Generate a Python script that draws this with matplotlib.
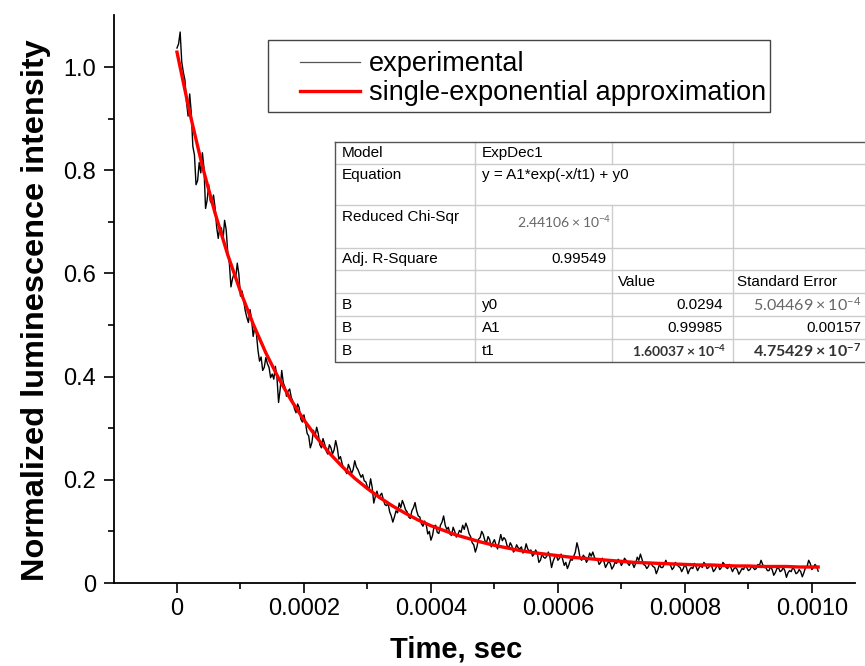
import numpy as np
import matplotlib.pyplot as plt
from matplotlib.patches import Rectangle

plt.rcParams['font.family'] = ['Liberation Sans', 'DejaVu Sans']

# experimental decay, one reading every 2.5 us
time_step = 2.5e-6
intensity = [
    1.037, 1.045, 1.068, 1.010, 0.990, 0.975, 0.932, 0.905, 0.948, 0.912,
    0.846, 0.830, 0.772, 0.780, 0.815, 0.795, 0.834, 0.805, 0.726, 0.742,
    0.772, 0.740, 0.735, 0.752, 0.728, 0.690, 0.668, 0.690, 0.688, 0.665,
    0.703, 0.685, 0.640, 0.620, 0.574, 0.590, 0.600, 0.592, 0.620, 0.598,
    0.556, 0.566, 0.548, 0.528, 0.515, 0.505, 0.530, 0.512, 0.478, 0.495,
    0.485, 0.452, 0.430, 0.438, 0.412, 0.418, 0.437, 0.425, 0.418, 0.398,
    0.405, 0.395, 0.420, 0.398, 0.350, 0.375, 0.412, 0.388, 0.380, 0.362,
    0.372, 0.376, 0.360, 0.352, 0.338, 0.330, 0.347, 0.340, 0.318, 0.312,
    0.326, 0.310, 0.290, 0.285, 0.262, 0.272, 0.296, 0.284, 0.302, 0.290,
    0.268, 0.262, 0.280, 0.270, 0.256, 0.250, 0.268, 0.262, 0.250, 0.258,
    0.276, 0.262, 0.240, 0.245, 0.232, 0.222, 0.218, 0.212, 0.230, 0.222,
    0.212, 0.220, 0.237, 0.225, 0.220, 0.212, 0.205, 0.210, 0.198, 0.196,
    0.186, 0.182, 0.202, 0.185, 0.155, 0.168, 0.178, 0.165, 0.170, 0.174,
    0.162, 0.152, 0.150, 0.154, 0.138, 0.130, 0.118, 0.128, 0.140, 0.136,
    0.155, 0.146, 0.160, 0.152, 0.142, 0.138, 0.128, 0.125, 0.140, 0.146,
    0.156, 0.140, 0.130, 0.128, 0.115, 0.110, 0.120, 0.114, 0.095, 0.100,
    0.083, 0.092, 0.110, 0.112, 0.098, 0.096, 0.112, 0.118, 0.130, 0.112,
    0.104, 0.108, 0.095, 0.092, 0.108, 0.100, 0.089, 0.094, 0.102, 0.098,
    0.112, 0.104, 0.116, 0.108, 0.096, 0.090, 0.078, 0.074, 0.060, 0.070,
    0.085, 0.088, 0.100, 0.094, 0.082, 0.078, 0.090, 0.084, 0.070, 0.078,
    0.084, 0.074, 0.066, 0.080, 0.094, 0.082, 0.088, 0.084, 0.072, 0.068,
    0.078, 0.072, 0.060, 0.064, 0.074, 0.068, 0.066, 0.070, 0.058, 0.062,
    0.076, 0.066, 0.062, 0.064, 0.052, 0.056, 0.064, 0.058, 0.040, 0.044,
    0.056, 0.050, 0.048, 0.052, 0.060, 0.050, 0.030, 0.042, 0.050, 0.054,
    0.044, 0.048, 0.056, 0.046, 0.034, 0.040, 0.028, 0.036, 0.046, 0.044,
    0.052, 0.060, 0.078, 0.066, 0.048, 0.044, 0.054, 0.050, 0.040, 0.046,
    0.058, 0.052, 0.060, 0.050, 0.044, 0.046, 0.036, 0.040, 0.048, 0.042,
    0.030, 0.036, 0.042, 0.038, 0.027, 0.032, 0.040, 0.038, 0.046, 0.042,
    0.034, 0.040, 0.048, 0.044, 0.038, 0.034, 0.042, 0.038, 0.030, 0.038,
    0.050, 0.044, 0.056, 0.046, 0.036, 0.034, 0.028, 0.032, 0.040, 0.036,
    0.032, 0.030, 0.018, 0.026, 0.036, 0.030, 0.030, 0.036, 0.044, 0.036,
    0.038, 0.034, 0.026, 0.030, 0.040, 0.036, 0.032, 0.030, 0.022, 0.028,
    0.036, 0.030, 0.018, 0.026, 0.030, 0.028, 0.038, 0.032, 0.024, 0.030,
    0.034, 0.030, 0.040, 0.036, 0.028, 0.030, 0.036, 0.032, 0.022, 0.026,
    0.032, 0.034, 0.026, 0.030, 0.040, 0.036, 0.030, 0.028, 0.036, 0.030,
    0.022, 0.028, 0.030, 0.026, 0.017, 0.022, 0.028, 0.026, 0.034, 0.030,
    0.024, 0.026, 0.032, 0.030, 0.026, 0.028, 0.036, 0.034, 0.044, 0.036,
    0.030, 0.030, 0.024, 0.024, 0.032, 0.026, 0.015, 0.020, 0.028, 0.030,
    0.022, 0.024, 0.030, 0.024, 0.011, 0.020, 0.024, 0.022, 0.030, 0.026,
    0.018, 0.020, 0.026, 0.022, 0.012, 0.020, 0.030, 0.032, 0.044, 0.038,
    0.026, 0.030, 0.036, 0.032, 0.023,
]

# fitted curve read every 20 us (last point at 1.01e-3)
fit_time = list(np.arange(51) * 2e-5) + [1.01e-3]
fit_values = [
    1.029, 0.912, 0.808, 0.717, 0.636, 0.565, 0.502, 0.446, 0.397, 0.354,
    0.316, 0.282, 0.252, 0.226, 0.203, 0.183, 0.165, 0.149, 0.135, 0.122,
    0.111, 0.102, 0.093, 0.086, 0.079, 0.073, 0.068, 0.063, 0.059, 0.056,
    0.053, 0.050, 0.048, 0.046, 0.044, 0.042, 0.040, 0.039, 0.038, 0.037,
    0.036, 0.035, 0.035, 0.034, 0.033, 0.033, 0.032, 0.032, 0.032, 0.031,
    0.031, 0.031,
]

xticks = [0, 0.0002, 0.0004, 0.0006, 0.0008, 0.0010]
xtick_labels = ["0", "0.0002", "0.0004", "0.0006", "0.0008", "0.0010"]
yticks = [0, 0.2, 0.4, 0.6, 0.8, 1.0]
ytick_labels = ["0", "0.2", "0.4", "0.6", "0.8", "1.0"]

legend_labels = ["experimental", "single-exponential approximation"]

table_left = [
    ["Model", "ExpDec1"],
    ["Equation", "y = A1*exp(-x/t1) + y0"],
    ["Reduced Chi-Sqr", ""],
    ["Adj. R-Square", ""],
    ["", ""],
    ["B", "y0"],
    ["B", "A1"],
    ["B", "t1"],
]
chi_sqr = r"$\mathregular{2.44106 \times 10^{-4}}$"
adj_r2 = "0.99549"
param_values = ["0.0294", "0.99985", r"$\mathregular{1.60037 \times 10^{-4}}$"]
param_errors = [r"$\mathregular{5.04469 \times 10^{-4}}$", "0.00157",
                r"$\mathregular{4.75429 \times 10^{-7}}$"]

fig = plt.figure(figsize=(8.65, 6.66), dpi=100)
ax = fig.add_axes([114 / 865, 1 - 583 / 666, 741 / 865, 568 / 666])

t = np.arange(len(intensity)) * time_step
ax.plot(t, intensity, color='black', lw=1.0)
ax.plot(fit_time, fit_values, color='#ff0000', lw=2.4)

ax.set_xlim(-0.0000992, 0.001068)
ax.set_ylim(0, 1.101)
ax.set_xticks(xticks)
ax.set_xticklabels(xtick_labels)
ax.set_yticks(yticks)
ax.set_yticklabels(ytick_labels)
ax.set_xticks(np.arange(1, 11, 2) * 1e-4, minor=True)
ax.set_yticks([0.1, 0.3, 0.5, 0.7, 0.9], minor=True)
ax.tick_params(which='major', direction='out', length=7, width=1.2, labelsize=17, pad=4)
ax.tick_params(axis='y', which='major', pad=6)
ax.tick_params(which='minor', direction='out', length=4, width=1.2)
for side in ['top', 'right']:
    ax.spines[side].set_visible(False)
for side in ['left', 'bottom']:
    ax.spines[side].set_linewidth(1.3)

ax.set_xlabel("Time, sec", fontsize=21, fontweight='bold')
ax.set_ylabel("Normalized luminescence intensity", fontsize=23.4, fontweight='bold')
ax.xaxis.set_label_coords(0.4615, -0.093)
ax.yaxis.set_label_coords(-0.085, 0.48)

# legend box drawn by hand, entries through legend()
fig.patches.append(Rectangle((268 / 865, 1 - 112 / 666), 502 / 865, 72 / 666,
                             transform=fig.transFigure, fill=False,
                             edgecolor='#444444', lw=1.0))
leg = ax.legend(ax.lines, legend_labels, loc='upper left', frameon=False,
                bbox_to_anchor=((300 - 114) / 741, (583 - 51) / 568),
                borderaxespad=0, borderpad=0, fontsize=19.5,
                handlelength=2.2, handletextpad=0.35, labelspacing=0.12)
leg.get_lines()[0].set_color('#555555')
leg.get_lines()[0].set_linewidth(0.9)

# fit report table, coordinates in pixels of the figure
tab = fig.add_axes([335 / 865, 1 - 362 / 666, 565 / 865, 220 / 666])
tab.set_xlim(335, 900)
tab.set_ylim(362, 142)
tab.axis('off')
col_edges = [335, 475, 612, 733]
row_edges = [142, 164, 205, 248, 270, 293, 316, 339, 362]
for y in row_edges[1:-1]:
    tab.plot([335, 900], [y, y], color='#cccccc', lw=1, clip_on=False)
for x in col_edges[1:]:
    if x == 612:
        tab.plot([x, x], [142, 164], color='#cccccc', lw=1, clip_on=False)
        tab.plot([x, x], [205, 362], color='#cccccc', lw=1, clip_on=False)
    else:
        tab.plot([x, x], [142, 362], color='#cccccc', lw=1, clip_on=False)
tab.plot([335, 900, 900, 335, 335], [142, 142, 362, 362, 142], color='#555555',
         lw=1, clip_on=False)

fs = 11
row_text_y = [153, 175, 217, 259, 282, 305, 328, 351]
for (c0, c1), y in zip(table_left, row_text_y):
    tab.text(342, y, c0, fontsize=fs, va='center')
    tab.text(482, y, c1, fontsize=fs, va='center')
tab.text(611, 222, chi_sqr, fontsize=10, va='center', ha='right',
         family='Lato', color='#666666')
tab.text(607, 259, adj_r2, fontsize=fs, va='center', ha='right')
tab.text(618, 282, "Value", fontsize=fs, va='center')
tab.text(737, 282, "Standard Error", fontsize=fs, va='center')
for i, y in enumerate(row_text_y[5:]):
    val = param_values[i]
    err = param_errors[i]
    if val.startswith('$'):
        tab.text(726, y, val, fontsize=10, va='center', ha='right', family='Lato',
                 color='#333333', fontweight='bold')
    else:
        tab.text(723, y, val, fontsize=fs, va='center', ha='right')
    if err.startswith('$'):
        tab.text(861, y, err, fontsize=11.5, va='center', ha='right', family='Lato',
                 color='#666666' if i == 0 else '#333333',
                 fontweight='normal' if i == 0 else 'bold')
    else:
        tab.text(861, y, err, fontsize=fs, va='center', ha='right')

fig.savefig('out.png', dpi=100)
